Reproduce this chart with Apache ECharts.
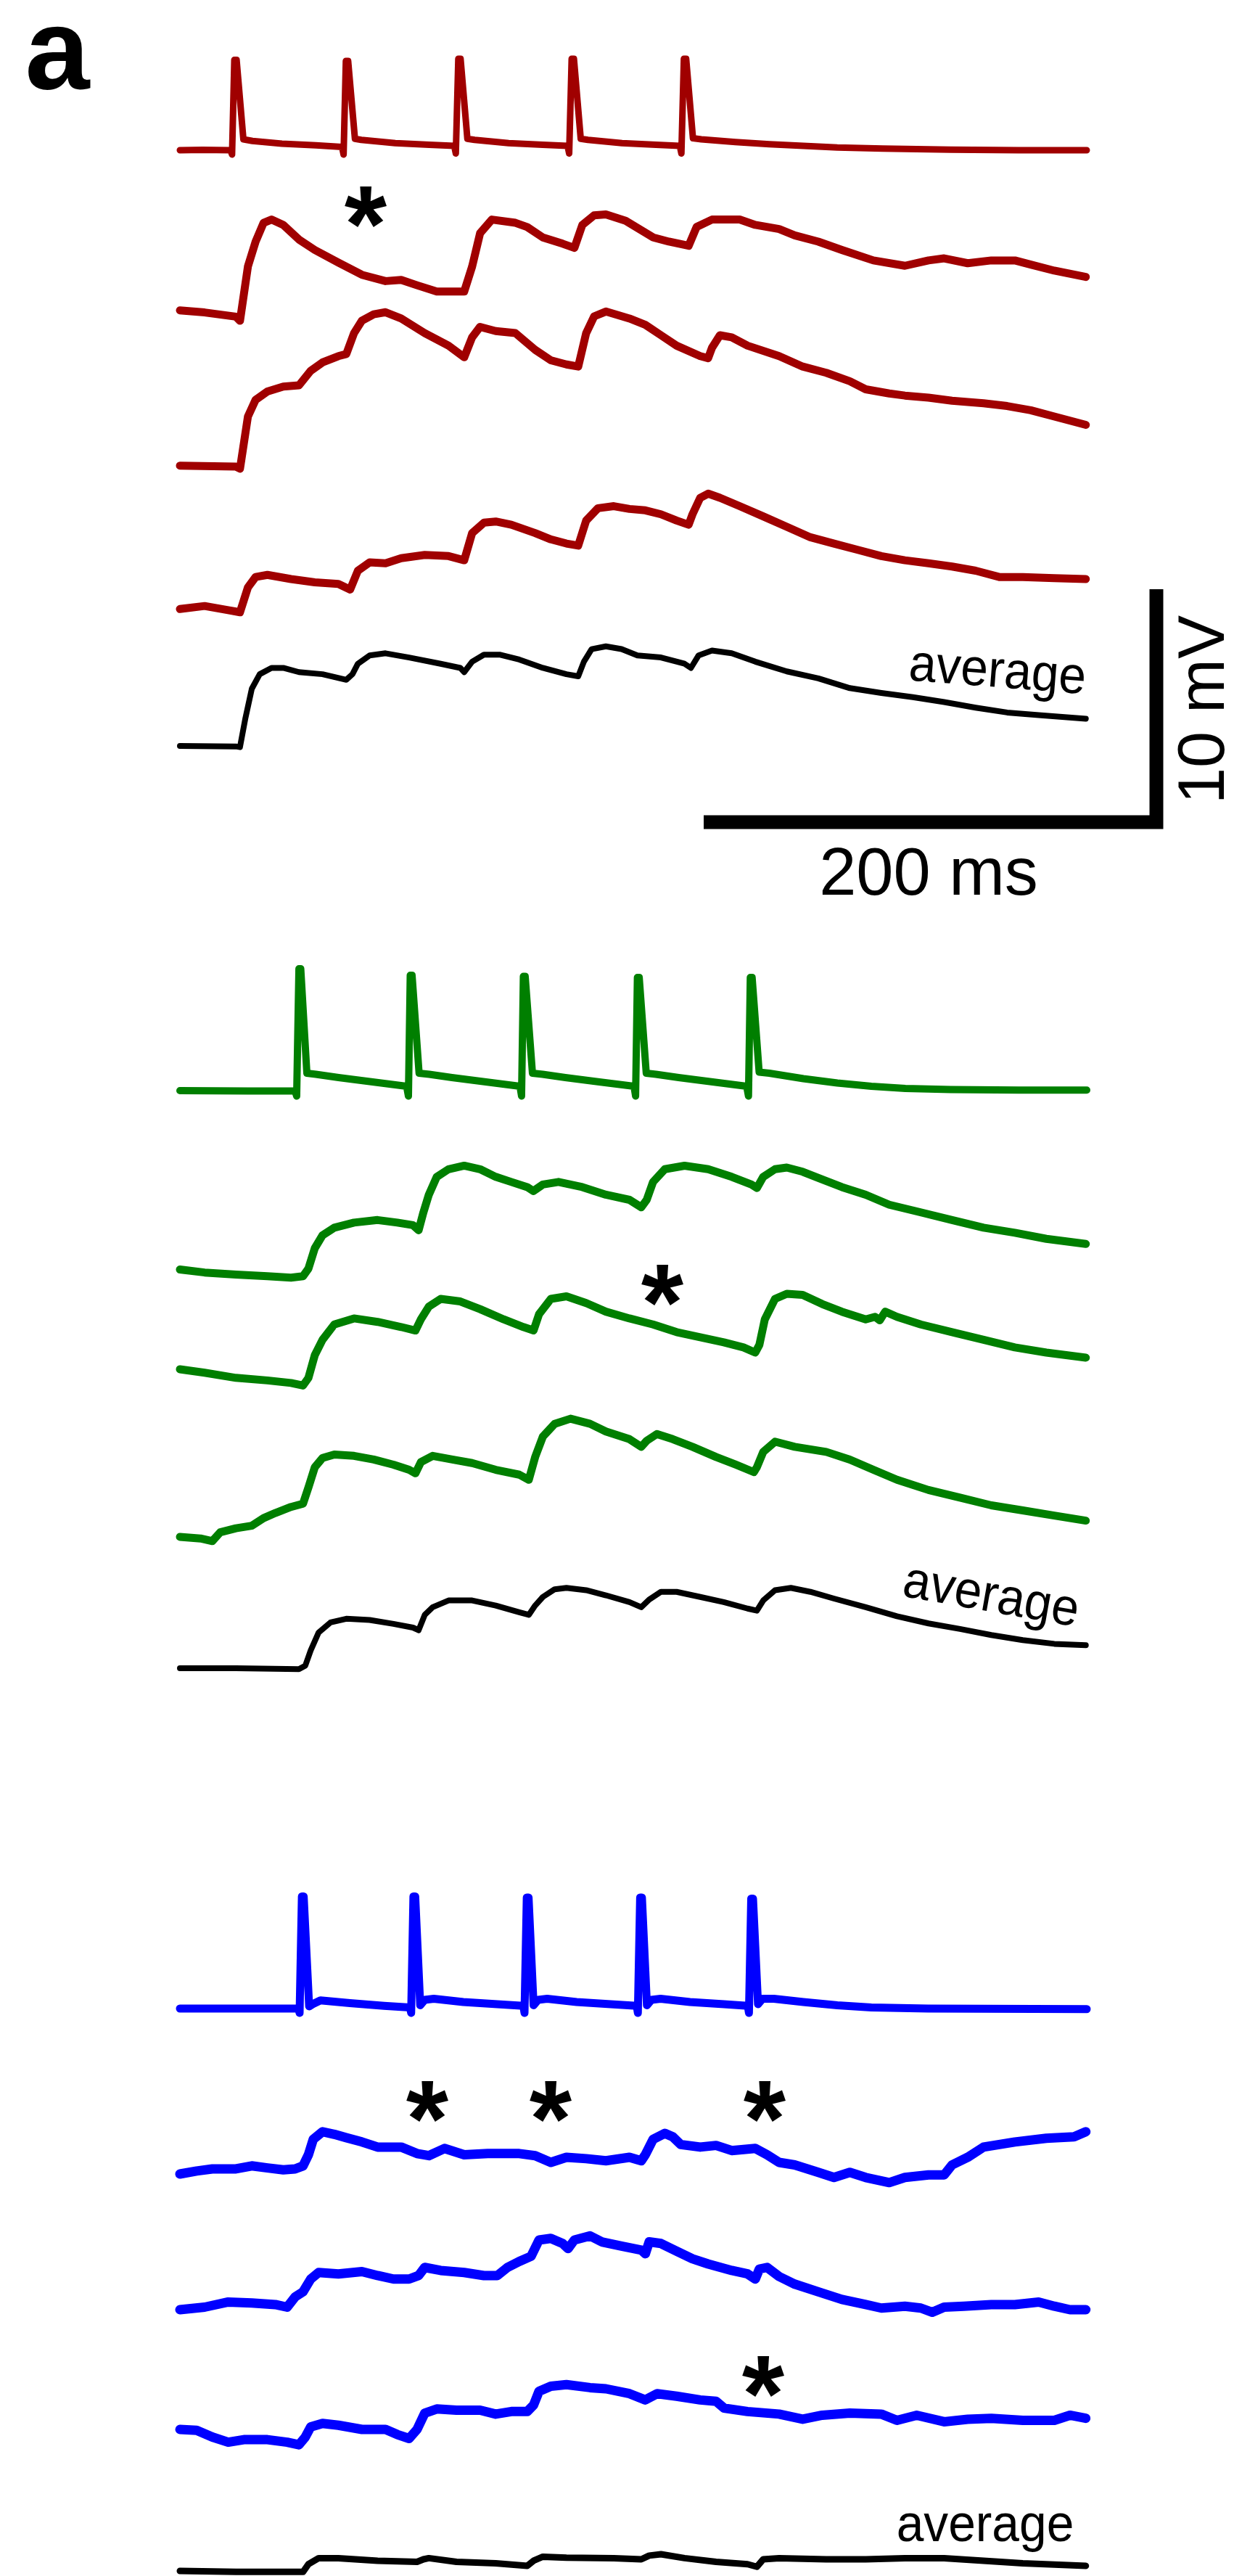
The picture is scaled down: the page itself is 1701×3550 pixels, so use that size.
<!DOCTYPE html>
<html><head><meta charset="utf-8">
<script src="https://cdn.jsdelivr.net/npm/echarts@6/dist/echarts.min.js"></script>
<style>html,body{margin:0;padding:0;background:#fff}#c{width:1701px;height:3550px}</style>
</head><body><div id="c"></div>
<script>
// ---- data: time (ms), voltage (mV, relative to each trace's starting level) ----
const redSpikes = [[0,0],[10,0.3],[22.3,0],[23,-4],[24,83],[25,83],[28,10],[32,8.5],[45,6],[60,4.5],[71.5,3],[72.2,-4],[73.2,82],[74.2,82],[77.2,10.5],[80,9.5],[95,6.5],[110,5],[121,4],[121.7,-3],[122.8,84],[123.8,84],[126.8,10.5],[130,9.5],[145,6.5],[160,5],[171,4],[171.7,-3],[172.8,84],[173.8,84],[176.8,10.5],[180,9.5],[195,6.5],[210,5],[220.5,4],[221.2,-3],[222.3,84],[223.3,84],[226.3,11],[230,10],[245,7.5],[260,5.5],[275,4],[290,2.5],[310,1.5],[340,0.5],[370,0],[400,0]];
const redTrial1 = [[0,0],[10.9,-0.09],[24.7,-0.27],[26.5,-0.45],[30,1.89],[33.4,2.96],[36.9,3.77],[40.4,3.91],[45.6,3.68],[52.5,3.05],[59.5,2.6],[69.9,2.06],[80.3,1.53],[90.7,1.26],[97.6,1.31],[104.6,1.08],[113.3,0.81],[125.4,0.81],[128.9,1.89],[132.4,3.32],[137.6,3.91],[148,3.77],[153.2,3.59],[160.1,3.14],[168.8,2.87],[174,2.69],[177.5,3.68],[182.7,4.09],[187.9,4.13],[196.6,3.86],[208.8,3.14],[215.7,2.96],[224.4,2.78],[227.9,3.59],[234.7,3.91],[246.9,3.91],[253.8,3.68],[264.3,3.5],[271.2,3.23],[281.6,2.96],[292,2.6],[305.9,2.15],[319.8,1.92],[330.2,2.15],[337.1,2.24],[347.5,2.03],[357.9,2.15],[368.3,2.15],[375.3,1.97],[385.7,1.71],[399.6,1.44]];
const redTrial2 = [[0,0],[24.7,-0.04],[26.5,-0.13],[30,2.12],[33.4,2.84],[38.6,3.2],[45.6,3.41],[52.5,3.46],[57.7,4.09],[62.9,4.45],[69.9,4.72],[73.4,4.81],[76.8,5.71],[80.3,6.25],[85.5,6.52],[90.7,6.61],[97.6,6.34],[108,5.71],[118.5,5.17],[125.4,4.67],[128.9,5.53],[132.4,5.98],[139.3,5.8],[148,5.71],[156.7,4.99],[163.6,4.54],[170.5,4.36],[175.7,4.27],[179.2,5.71],[182.7,6.43],[187.9,6.64],[198.3,6.34],[205.3,6.07],[212.2,5.62],[219.1,5.17],[229.5,4.72],[233,4.63],[234.7,5.08],[238.2,5.62],[243.4,5.53],[250.4,5.17],[264.3,4.72],[274.7,4.27],[285.1,4],[295.5,3.64],[302.5,3.29],[312.9,3.11],[319.8,3.02],[330.2,2.93],[340.6,2.8],[354.5,2.69],[364.9,2.57],[375.3,2.39],[385.7,2.12],[399.6,1.76]];
const redTrial3 = [[0,0],[10.9,0.13],[21.3,-0.05],[26.5,-0.14],[30,0.93],[33.4,1.38],[38.6,1.47],[49,1.29],[59.5,1.15],[69.9,1.08],[75.1,0.84],[78.5,1.65],[83.7,2.01],[90.7,1.97],[97.6,2.19],[108,2.33],[118.5,2.28],[125.4,2.1],[128.9,3.27],[134.1,3.72],[139.3,3.77],[146.2,3.63],[156.7,3.27],[163.6,3],[170.5,2.82],[175.7,2.73],[179.2,3.81],[184.4,4.34],[191.4,4.43],[198.3,4.31],[205.3,4.25],[212.2,4.08],[219.1,3.81],[224.4,3.63],[226.1,4.08],[229.5,4.79],[233,4.97],[238.2,4.79],[246.9,4.43],[257.3,3.99],[267.7,3.54],[278.1,3.09],[288.5,2.82],[299,2.55],[309.4,2.28],[319.8,2.1],[330.2,1.97],[340.6,1.83],[351,1.65],[361.4,1.38],[371.8,1.38],[385.7,1.33],[399.6,1.29]];
const redAverage = [[0,0],[24.7,-0.02],[26.5,-0.05],[28.9,1.2],[31.7,2.46],[35.2,3.09],[40.4,3.36],[45.6,3.36],[52.5,3.18],[62.9,3.09],[73.4,2.85],[76.1,3.09],[78.5,3.54],[83.7,3.9],[90.7,3.99],[101.1,3.81],[115,3.54],[123.7,3.36],[125.4,3.18],[128.9,3.63],[134.1,3.93],[141,3.93],[149.7,3.72],[160.1,3.36],[170.5,3.09],[175.7,3],[178.2,3.63],[181.6,4.17],[187.9,4.29],[194.8,4.17],[201.8,3.9],[212.2,3.81],[222.6,3.54],[225.4,3.36],[228.8,3.9],[234.7,4.11],[243.4,3.99],[253.8,3.63],[267.7,3.21],[281.6,2.91],[295.5,2.49],[309.4,2.28],[323.3,2.1],[337.1,1.89],[351,1.65],[364.9,1.44],[378.8,1.33],[399.6,1.17]];

const greenSpikes = [[0,0],[30,-0.3],[50.8,-0.3],[51.5,-5],[52.5,112],[53.3,112],[56,16],[60,15],[70,12],[85,8],[100,4],[100.8,-5],[101.6,106],[102.4,106],[105.5,16],[110,15],[120,12],[135,8],[150,4],[150.7,-5],[151.5,105],[152.3,105],[155.5,16],[160,15],[170,12],[185,8],[200.3,4],[201,-5],[201.8,104],[202.6,104],[205.7,16],[210,15],[220,12],[235,8],[250,4],[250.8,-5],[251.6,104],[252.4,104],[255.5,17],[260,16],[275,11],[290,7],[305,4],[320,2],[340,1],[370,0.5],[400,0.5]];
const greenTrial1 = [[0,0],[10.9,-0.13],[24.7,-0.22],[38.6,-0.29],[49,-0.35],[54.3,-0.29],[56.7,0.04],[59.5,0.92],[62.9,1.47],[68.1,1.8],[76.8,2.02],[87.2,2.13],[95.9,2.02],[102.8,1.91],[105.3,1.69],[107.4,2.46],[109.8,3.22],[113.3,3.99],[118.5,4.32],[125.4,4.47],[132.4,4.32],[139.3,3.99],[146.2,3.77],[153.2,3.55],[155.9,3.38],[160.1,3.66],[167,3.77],[177.5,3.55],[187.9,3.22],[198.3,3],[203.5,2.68],[205.9,3],[208.7,3.77],[213.9,4.32],[222.6,4.47],[233,4.32],[243.4,3.99],[252.1,3.66],[254.5,3.51],[257.3,3.99],[262.5,4.32],[267.7,4.39],[274.7,4.21],[283.3,3.88],[292,3.55],[302.5,3.22],[312.9,2.79],[326.8,2.46],[340.6,2.13],[354.5,1.8],[368.3,1.58],[382.2,1.32],[399.6,1.1]];
const greenTrial2 = [[0,0],[10.9,-0.15],[24.7,-0.37],[38.6,-0.48],[49,-0.59],[54.3,-0.7],[56.7,-0.37],[59.5,0.61],[62.9,1.27],[68.1,1.93],[76.8,2.19],[87.2,2.04],[97.6,1.82],[103.9,1.67],[106.3,2.15],[109.8,2.7],[115,3.03],[123.7,2.92],[132.4,2.59],[142.8,2.15],[151.5,1.82],[156,1.67],[158.4,2.37],[163.6,3.03],[170.5,3.14],[179.2,2.85],[187.9,2.48],[198.3,2.19],[208.7,1.93],[219.1,1.6],[229.5,1.38],[239.9,1.16],[248.6,0.94],[253.8,0.72],[255.6,1.05],[258,2.15],[262.5,3.03],[267.7,3.25],[274.7,3.2],[283.3,2.81],[292,2.48],[302.5,2.15],[306.6,2.26],[308.7,2.11],[311.1,2.48],[316.3,2.26],[326.8,1.93],[340.6,1.6],[354.5,1.27],[368.3,0.94],[382.2,0.72],[399.6,0.5]];
const greenTrial3 = [[0,0],[9.1,-0.07],[14.3,-0.18],[17.8,0.2],[24.7,0.37],[31.7,0.48],[36.9,0.81],[42.1,1.03],[49,1.29],[54.3,1.43],[56.7,2.13],[59.5,3],[62.9,3.4],[68.1,3.55],[76.8,3.49],[85.5,3.33],[94.2,3.11],[101.1,2.89],[103.9,2.74],[106.3,3.22],[111.5,3.49],[120.2,3.33],[128.9,3.18],[139.3,2.89],[149.7,2.68],[153.9,2.46],[156.7,3.44],[160.1,4.32],[165.3,4.87],[172.3,5.09],[180.9,4.87],[187.9,4.54],[198.3,4.21],[203.5,3.88],[205.9,4.14],[210.4,4.43],[217.4,4.21],[226.1,3.88],[236.5,3.44],[245.2,3.11],[253.2,2.79],[254.5,3],[257.3,3.66],[262.5,4.1],[271.2,3.88],[285.1,3.66],[295.5,3.33],[305.9,2.89],[316.3,2.46],[330.2,2.02],[344.1,1.69],[357.9,1.36],[371.8,1.14],[385.7,0.92],[399.6,0.7]];
const greenAverage = [[0,0],[24.7,0],[52.5,-0.04],[55.3,0.11],[57.7,0.77],[61.2,1.54],[66.4,1.97],[73.4,2.13],[83.7,2.08],[94.2,1.91],[102.8,1.75],[105.3,1.64],[108,2.3],[111.5,2.63],[118.5,2.92],[128.9,2.92],[139.3,2.7],[149.7,2.41],[153.9,2.3],[156.7,2.7],[160.1,3.07],[165.3,3.4],[170.5,3.46],[179.2,3.36],[187.9,3.14],[198.3,2.85],[203.5,2.63],[207,2.96],[212.2,3.29],[219.1,3.29],[229.5,3.07],[239.9,2.85],[250.4,2.57],[254.5,2.48],[257.3,2.92],[262.5,3.36],[269.5,3.46],[278.1,3.29],[288.5,3],[302.5,2.63],[316.3,2.24],[330.2,1.93],[344.1,1.69],[357.9,1.43],[371.8,1.21],[385.7,1.05],[399.6,0.99]];

const blueSpikes = [[0,0],[52.3,0],[52.8,-4],[53.8,103],[54.6,103],[57,2],[58.5,4],[62,7.5],[75,5],[90,2.5],[101.5,1],[102,-4],[103,103],[103.8,103],[106,3],[108,8],[112,9],[125,6],[140,4],[151.5,2.5],[152,-4],[153,102],[153.8,102],[156,3],[158,8],[162,9],[175,6],[190,4],[201.5,2.5],[202,-4],[203,102],[203.8,102],[206,3],[208,8],[212,9],[225,6],[240,4],[250.5,2.5],[251,-4],[252,101],[252.8,101],[255,4],[257,9],[262,9],[275,6],[290,3],[305,1],[330,0],[400,-0.5]];
const blueTrial1 = [[0,0],[7.4,0.13],[14.3,0.22],[24.7,0.22],[31.7,0.35],[38.6,0.26],[45.6,0.18],[50.8,0.22],[54.3,0.35],[56.7,0.83],[58.8,1.49],[62.9,1.82],[68.1,1.71],[73.4,1.56],[80.3,1.38],[87.2,1.16],[97.6,1.16],[104.6,0.88],[109.8,0.79],[116.7,1.1],[125.4,0.83],[135.8,0.88],[149.7,0.88],[156.7,0.79],[163.6,0.5],[170.5,0.72],[179.2,0.66],[187.9,0.57],[198.3,0.72],[203.5,0.57],[205.3,0.83],[208.7,1.49],[213.9,1.75],[217.4,1.6],[220.9,1.27],[229.5,1.16],[236.5,1.23],[243.4,1.01],[253.8,1.1],[259,0.83],[264.3,0.5],[271.2,0.39],[281.6,0.07],[288.5,-0.15],[295.5,0.07],[302.5,-0.15],[312.9,-0.37],[319.8,-0.15],[330.2,-0.04],[337.1,-0.04],[340.6,0.39],[347.5,0.72],[354.5,1.16],[368.3,1.38],[382.2,1.54],[394.4,1.6],[399.6,1.82]];
const blueTrial2 = [[0,0],[10.9,0.11],[21.3,0.33],[31.7,0.29],[42.1,0.22],[47.3,0.11],[50.8,0.55],[54.3,0.77],[57.7,1.32],[61.2,1.6],[69.9,1.54],[80.3,1.64],[87.2,1.47],[94.2,1.32],[101.1,1.32],[105.3,1.47],[108,1.82],[115,1.69],[125.4,1.6],[134.1,1.47],[140,1.47],[144.5,1.82],[149.7,2.08],[154.9,2.3],[158.4,3],[163.6,3.07],[168.8,2.85],[171.2,2.63],[174,3],[180.9,3.18],[186.1,2.92],[194.8,2.74],[203.5,2.57],[205.3,2.41],[207,2.92],[212.2,2.85],[219.1,2.52],[226.1,2.19],[233,1.97],[243.4,1.69],[250.4,1.54],[253.8,1.32],[255.6,1.75],[259,1.82],[264.3,1.43],[271.2,1.1],[281.6,0.77],[292,0.44],[302.5,0.22],[309.4,0.07],[319.8,0.15],[326.8,0.07],[331.9,-0.11],[337.1,0.11],[345.8,0.15],[357.9,0.22],[368.3,0.22],[378.8,0.33],[385.7,0.15],[392.6,0],[399.6,0]];
const blueTrial3 = [[0,0],[7.4,-0.04],[14.3,-0.33],[21.3,-0.55],[28.2,-0.44],[38.6,-0.44],[47.3,-0.55],[52.5,-0.66],[55.3,-0.33],[57.7,0.11],[62.9,0.26],[69.9,0.18],[80.3,0],[90.7,0],[95.9,-0.22],[101.1,-0.39],[104.6,0],[108,0.7],[113.3,0.88],[122,0.83],[132.4,0.83],[139.3,0.66],[146.2,0.77],[153.2,0.77],[156,1.05],[158.4,1.64],[163.6,1.86],[170.5,1.93],[180.9,1.8],[187.9,1.75],[198.3,1.54],[205.3,1.27],[210.5,1.54],[219.1,1.43],[229.5,1.27],[236.5,1.21],[240,0.92],[250.4,0.77],[264.3,0.66],[274.7,0.44],[283.3,0.61],[295.5,0.7],[309.4,0.66],[316.3,0.39],[325,0.61],[337.1,0.33],[347.5,0.44],[357.9,0.48],[371.8,0.39],[385.7,0.39],[392.6,0.61],[399.6,0.48]];
const blueAverage = [[0,0],[24.7,-0.04],[54.3,-0.04],[56.7,0.29],[61.2,0.55],[69.9,0.55],[87.2,0.44],[104.6,0.39],[107.4,0.5],[109.8,0.55],[122,0.39],[139.3,0.33],[153.2,0.22],[156,0.44],[160.1,0.61],[170.5,0.57],[191.4,0.55],[203.5,0.5],[207,0.66],[212.2,0.72],[222.6,0.55],[236.5,0.39],[250.4,0.29],[254.5,0.18],[257.3,0.5],[264.3,0.55],[285.1,0.5],[302.5,0.5],[319.8,0.55],[337.1,0.55],[354.5,0.44],[371.8,0.33],[399.6,0.22]];

// scale bar: 200 ms and 10 mV
const scaleBar = [[0,0],[200,0],[200,10]];
const scaleLabels = ['200 ms', '10 mV'];
const panelLabel = 'a';
const traceLabel = 'average';
const failureMark = '*';

// ---- layout / style ----
const RED = '#a00000', GREEN = '#007f00', BLUE = '#0000ff', BLACK = '#000000';
const T_MAX = 400;
const PLOT_LEFT = 248, PLOT_WIDTH = 1250;
const POST_PX = 32;     // px per mV (postsynaptic)
const PRE_PX = 1.5;     // px per mV (presynaptic spikes)

const traces = [
  {data: redSpikes, color: RED, base: 207, pre: true, w: 9},
  {data: redTrial1, color: RED, base: 427.7, w: 11},
  {data: redTrial2, color: RED, base: 641.8, w: 11},
  {data: redTrial3, color: RED, base: 839.3, w: 11},
  {data: redAverage, color: BLACK, base: 1028, w: 8},
  {data: greenSpikes, color: GREEN, base: 1503, pre: true, w: 10},
  {data: greenTrial1, color: GREEN, base: 1749.5, w: 11},
  {data: greenTrial2, color: GREEN, base: 1887, w: 11},
  {data: greenTrial3, color: GREEN, base: 2118, w: 11},
  {data: greenAverage, color: BLACK, base: 2299, w: 8},
  {data: blueSpikes, color: BLUE, base: 2768, pre: true, w: 11},
  {data: blueTrial1, color: BLUE, base: 2996, w: 13},
  {data: blueTrial2, color: BLUE, base: 3183, w: 13},
  {data: blueTrial3, color: BLUE, base: 3348, w: 13},
  {data: blueAverage, color: BLACK, base: 3543, w: 9}
];

const grids = [], xAxes = [], yAxes = [], series = [];
traces.forEach((tr, i) => {
  const s = tr.pre ? PRE_PX : POST_PX;
  const lo = tr.pre ? -10 : -1, hi = tr.pre ? 120 : 7;
  grids.push({left: PLOT_LEFT, width: PLOT_WIDTH, top: tr.base - hi * s, height: (hi - lo) * s,
    containLabel: false, outerBoundsMode: 'none'});
  xAxes.push({type: 'value', gridIndex: i, min: 0, max: T_MAX, show: false});
  yAxes.push({type: 'value', gridIndex: i, min: lo, max: hi, show: false});
  series.push({type: 'line', xAxisIndex: i, yAxisIndex: i, data: tr.data, showSymbol: false, symbol: 'none',
    clip: false, silent: true, animation: false,
    lineStyle: {color: tr.color, width: tr.w, cap: 'round', join: 'round'}});
});
// scale bar grid (same px/ms and px/mV as traces)
const sbi = traces.length;
grids.push({left: 970, top: 812, width: 200 * PLOT_WIDTH / T_MAX - 1, height: 10 * POST_PX + 1,
  containLabel: false, outerBoundsMode: 'none'});
xAxes.push({type: 'value', gridIndex: sbi, min: 0, max: 200, show: false});
yAxes.push({type: 'value', gridIndex: sbi, min: 0, max: 10, show: false});
series.push({type: 'line', xAxisIndex: sbi, yAxisIndex: sbi, data: scaleBar, showSymbol: false, symbol: 'none',
  clip: false, silent: true, animation: false, lineStyle: {color: BLACK, width: 19, cap: 'butt', join: 'miter'}});

const FONT = '"Liberation Sans", Arial, Helvetica, sans-serif';
function txt(text, x, y, size, opts) {
  opts = opts || {};
  return {type: 'text', x: x, y: y, rotation: opts.rot || 0, scaleX: opts.sx || 1, silent: true, z: 10,
    style: {text: text, x: 0, y: 0, fill: BLACK,
      font: (opts.bold ? 'bold ' : '') + size + 'px ' + FONT,
      align: 'center', verticalAlign: 'middle', textAlign: 'center', textVerticalAlign: 'middle'}};
}
const graphics = [
  txt(panelLabel, 79, 78, 160, {bold: true}),
  txt(failureMark, 504, 320, 150, {bold: true}),
  txt(failureMark, 913, 1806, 150, {bold: true}),
  txt(failureMark, 589, 2931, 150, {bold: true}),
  txt(failureMark, 759, 2931, 150, {bold: true}),
  txt(failureMark, 1054, 2931, 150, {bold: true}),
  txt(failureMark, 1052, 3310, 150, {bold: true}),
  txt(traceLabel, 1375, 927, 72, {rot: -0.078, sx: 0.94}),
  txt(traceLabel, 1366, 2201, 72, {rot: -0.175, sx: 0.94}),
  txt(traceLabel, 1358, 3482, 72, {sx: 0.94}),
  txt(scaleLabels[0], 1280, 1208, 92),
  txt(scaleLabels[1], 1662, 978, 90, {rot: Math.PI / 2})
];

const chart = echarts.init(document.getElementById('c'), null, {renderer: 'canvas'});
chart.setOption({
  animation: false,
  backgroundColor: '#ffffff',
  grid: grids, xAxis: xAxes, yAxis: yAxes, series: series,
  graphic: {elements: graphics}
});
</script>
</body></html>
